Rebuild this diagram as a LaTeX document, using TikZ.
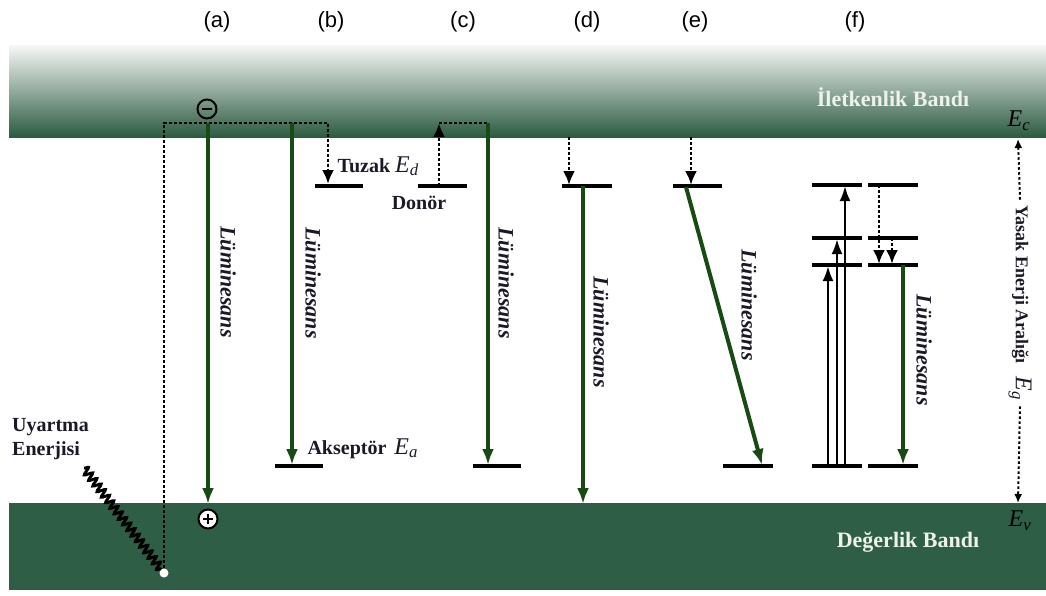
\documentclass[tikz,border=0pt]{standalone}
\usepackage{fontspec}
\setmainfont{Liberation Serif}
\newfontfamily\colfont{Liberation Sans}
\usetikzlibrary{arrows.meta,decorations.pathmorphing}

\definecolor{lumgreen}{RGB}{24,74,20}
\definecolor{bandgreen}{RGB}{47,94,70}
\definecolor{bandtop}{RGB}{246,248,247}
\definecolor{bandmid}{RGB}{168,190,177}
\definecolor{bandbot}{RGB}{44,91,65}
\definecolor{ink}{RGB}{26,26,38}
\definecolor{bandtext}{RGB}{238,242,234}

\newcommand{\Esym}[1]{\textit{E}\textsubscript{\textit{#1}}}

\tikzset{
  level/.style={line width=4.5pt, black},
  lum/.style={line width=4pt, lumgreen, -{Latex[length=16pt,width=12pt]}},
  hop/.style={line width=2.8pt, dash pattern=on 3.2pt off 1.8pt, -{Latex[length=14pt,width=12pt]}},
  hopline/.style={line width=2.8pt, dash pattern=on 3.2pt off 1.8pt},
  pump/.style={line width=2.6pt, -{Latex[length=15pt,width=11pt]}},
  gap/.style={line width=2pt, dash pattern=on 2.5pt off 2.5pt, -{Latex[length=9pt,width=8pt]}},
  lumtext/.style={rotate=-90, text=ink, font=\fontsize{22}{22}\selectfont\bfseries\itshape},
  lbl/.style={text=ink, font=\fontsize{20}{24}\selectfont\bfseries},
  collbl/.style={font=\colfont\fontsize{22}{22}\selectfont},
  bandlbl/.style={text=bandtext, font=\fontsize{22}{22}\selectfont\bfseries},
  charge/.style={circle, draw, line width=2pt, minimum size=19pt, inner sep=0pt},
}

\begin{document}
\begin{tikzpicture}[x=1pt,y=-1pt]
\useasboundingbox (0,0) rectangle (1046,595);

% conduction and valence bands
\shade[top color=bandtop, middle color=bandmid, bottom color=bandbot] (9,45) rectangle (1046,137);
\fill[bandgreen] (9,503) rectangle (1046,590);
\draw[black!70, line width=0.8pt] (990,137) -- (1042,137);
\draw[black!70, line width=0.8pt] (990,503) -- (1042,503);

\node[bandlbl] (cbname) at (893,97) {İletkenlik Bandı};
\node[bandlbl] (vbname) at (908,542) {Değerlik Bandı};
\node[font=\fontsize{24}{24}\selectfont] (Ec) at (1019,121) {\Esym{c}};
\node[font=\fontsize{24}{24}\selectfont] (Ev) at (1020,521) {\Esym{v}};

% column labels
\node[collbl] (la) at (217,22) {(a)};
\node[collbl] (lb) at (331,22) {(b)};
\node[collbl] (lc) at (463,22) {(c)};
\node[collbl] (ld) at (587,22) {(d)};
\node[collbl] (le) at (695,22) {(e)};
\node[collbl] (lf) at (855,22) {(f)};

% band gap marker
\coordinate (gapTop) at (1018,139);
\coordinate (gapBot) at (1018,503);
\node[rotate=-90, text=ink, font=\fontsize{18}{18}\selectfont\bfseries, inner sep=6pt] (gaptxt) at (1020,303)
  {Yasak Enerji Aralığı\hspace{0.7em}{\mdseries\fontsize{24}{24}\selectfont\Esym{g}}};
\draw[gap] (gaptxt.west) -- (gapTop);
\draw[gap] (gaptxt.east) -- (gapBot);

% excitation
\node[circle, fill=white, inner sep=0pt, minimum size=9pt] (hole0) at (164,573) {};
\coordinate (waveStart) at (84,468);
\draw[decorate, decoration={snake, amplitude=4pt, segment length=7pt}, line width=2.8pt] (waveStart) -- (hole0);
\node[lbl, align=left, anchor=north west, inner sep=0pt] (uyar) at (12,418) {Uyartma\\Enerjisi};

% (a) band-to-band
\coordinate (corner) at (164,123);
\coordinate (trapIn) at (328,184);
\draw[hop] (hole0) -- (corner) -| (trapIn);
\node[charge] (eminus) at (207,109) {};
\draw[line width=2.2pt] ([xshift=-5pt]eminus.center) -- ([xshift=5pt]eminus.center);
\node[charge, fill=white] (hplus) at (208,519) {};
\draw[line width=2pt] ([xshift=-5pt]hplus.center) -- ([xshift=5pt]hplus.center)
  ([yshift=-5pt]hplus.center) -- ([yshift=5pt]hplus.center);
\coordinate (aTop) at (208,123);
\coordinate (aBot) at (208,504);
\draw[lum] (aTop) -- (aBot);
\node[lumtext] (luma) at (228,282) {Lüminesans};

% (b) conduction band to acceptor
\coordinate (trapL) at (315,186);
\coordinate (trapR) at (363,186);
\draw[level] (trapL) -- (trapR);
\node[lbl, anchor=base west] (tuzak) at (334,172) {Tuzak \mdseries\fontsize{24}{24}\selectfont\Esym{d}};
\coordinate (bTop) at (292,123);
\coordinate (bBot) at (292,465);
\draw[lum] (bTop) -- (bBot);
\coordinate (accL) at (275,466);
\coordinate (accR) at (323,466);
\draw[level] (accL) -- (accR);
\node[lbl, anchor=base west] (akse) at (304,454) {Akseptör\hspace{0.4em}\mdseries\fontsize{24}{24}\selectfont\Esym{a}};
\node[lumtext] (lumb) at (313,283) {Lüminesans};

% (c) donor to valence-side level
\coordinate (donL) at (418,186);
\coordinate (donR) at (467,186);
\draw[level] (donL) -- (donR);
\node[lbl] (donor) at (419,203) {Donör};
\coordinate (donUp) at (439,186);
\coordinate (cCorner) at (439,123);
\coordinate (cTop) at (488,123);
\draw[hop] (donUp) -- (cCorner);
\draw[hopline] (cCorner) -- (cTop);
\coordinate (cBot) at (488,465);
\draw[lum] (cTop) -- (cBot);
\coordinate (cLvL) at (473,466);
\coordinate (cLvR) at (521,466);
\draw[level] (cLvL) -- (cLvR);
\node[lumtext] (lumc) at (506,283) {Lüminesans};

% (d) donor level to valence band
\coordinate (dIn) at (569,137);
\coordinate (dHit) at (569,185);
\draw[hop] (dIn) -- (dHit);
\coordinate (dL) at (562,186);
\coordinate (dR) at (612,186);
\draw[level] (dL) -- (dR);
\coordinate (dTop) at (583,186);
\coordinate (dBot) at (583,504);
\draw[lum] (dTop) -- (dBot);
\node[lumtext] (lumd) at (601,332) {Lüminesans};

% (e) donor-acceptor pair
\coordinate (eIn) at (691,137);
\coordinate (eHit) at (691,185);
\draw[hop] (eIn) -- (eHit);
\coordinate (eL) at (673,186);
\coordinate (eR) at (722,186);
\draw[level] (eL) -- (eR);
\coordinate (eTop) at (686,187);
\coordinate (eBot) at (762,465);
\draw[lum] (eTop) -- (eBot);
\coordinate (eLvL) at (723,466);
\coordinate (eLvR) at (773,466);
\draw[level] (eLvL) -- (eLvR);
\node[lumtext] (lume) at (749,305) {Lüminesans};

% (f) multi-level excitation and relaxation
\foreach \y/\n in {185/1,238/2,265/3,466/0}{
  \coordinate (fl\n L) at (812,\y);
  \coordinate (fl\n R) at (862,\y);
  \coordinate (fr\n L) at (868,\y);
  \coordinate (fr\n R) at (918,\y);
  \draw[level] (fl\n L) -- (fl\n R);
  \draw[level] (fr\n L) -- (fr\n R);
}
\coordinate (p1b) at (828,466); \coordinate (p1t) at (828,266);
\coordinate (p2b) at (837,466); \coordinate (p2t) at (837,239);
\coordinate (p3b) at (845,466); \coordinate (p3t) at (845,186);
\draw[pump] (p1b) -- (p1t);
\draw[pump] (p2b) -- (p2t);
\draw[pump] (p3b) -- (p3t);
\coordinate (r1t) at (879,185); \coordinate (r1b) at (879,264);
\coordinate (r2t) at (892,238); \coordinate (r2b) at (892,264);
\draw[hop] (r1t) -- (r1b);
\draw[hop] (r2t) -- (r2b);
\coordinate (fTop) at (903,265);
\coordinate (fBot) at (903,465);
\draw[lum] (fTop) -- (fBot);
\node[lumtext] (lumf) at (924,350) {Lüminesans};
\end{tikzpicture}
\end{document}
